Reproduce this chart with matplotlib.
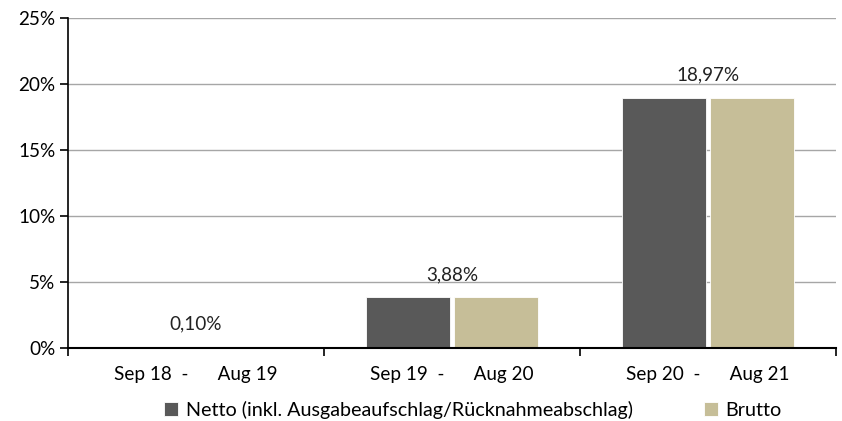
import numpy as np
import matplotlib.pyplot as plt
from matplotlib.ticker import FuncFormatter, FixedLocator

plt.rcParams['font.family'] = ['Lato', 'DejaVu Sans']

periods = ['Sep 18  -      Aug 19', 'Sep 19  -      Aug 20', 'Sep 20  -      Aug 21']
netto = [0.10, 3.88, 18.97]
brutto = [0.10, 3.88, 18.97]
labels = ['0,10%', '3,88%', '18,97%']
series_names = ['Netto (inkl. Ausgabeaufschlag/Rücknahmeabschlag)', 'Brutto']

fs = 13.6

fig = plt.figure(figsize=(8.42, 4.21), dpi=100)
ax = fig.add_axes([68 / 842, 1 - 348 / 421, (836 - 68) / 842, (348 - 18) / 421])

x = np.arange(len(periods))
w = 0.328
gap = 0.008
ax.bar(x - w / 2 - gap, netto, w, color='#595959', edgecolor='white', linewidth=0.6,
       label=series_names[0], zorder=2)
ax.bar(x + w / 2 + gap, brutto, w, color='#C6BE98', edgecolor='white', linewidth=0.6,
       label=series_names[1], zorder=2)

for xi, v, t in zip(x, netto, labels):
    ax.annotate(t, (xi, v), xytext=(0, 10), textcoords='offset points',
                ha='center', va='bottom', fontsize=fs, color='#222222')

ax.set_xlim(-0.5, 2.5)
ax.set_ylim(0, 25)
ax.set_yticks(np.arange(0, 26, 5))
ax.yaxis.set_major_formatter(FuncFormatter(lambda v, p: '%d%%' % v))
ax.yaxis.grid(True, color='#a6a6a6', linewidth=1, zorder=0)
ax.set_axisbelow(True)

ax.xaxis.set_major_locator(FixedLocator([-0.5, 0.5, 1.5, 2.5]))
ax.xaxis.set_major_formatter(FuncFormatter(lambda v, p: ''))
ax.xaxis.set_minor_locator(FixedLocator(x))
ax.set_xticklabels(periods, minor=True)
ax.tick_params(axis='x', which='minor', length=0, pad=13, labelsize=fs)
ax.tick_params(axis='x', which='major', length=6, width=1.2, direction='out')
ax.tick_params(axis='y', length=6, width=1.2, direction='out', labelsize=fs, pad=3)

for s in ['top', 'right']:
    ax.spines[s].set_visible(False)
ax.spines['left'].set_linewidth(1.2)
ax.spines['bottom'].set_linewidth(1.5)
ax.spines['left'].set_zorder(3)
ax.spines['bottom'].set_zorder(3)

handles, names = ax.get_legend_handles_labels()
fig.legend(handles, names, loc='center', bbox_to_anchor=(473 / 842, 1 - 410 / 421), ncol=2,
           frameon=False, fontsize=14.2, handlelength=0.7, handleheight=0.7,
           handletextpad=0.4, columnspacing=3.6, borderaxespad=0, borderpad=0)

fig.savefig('out.png', dpi=100)
